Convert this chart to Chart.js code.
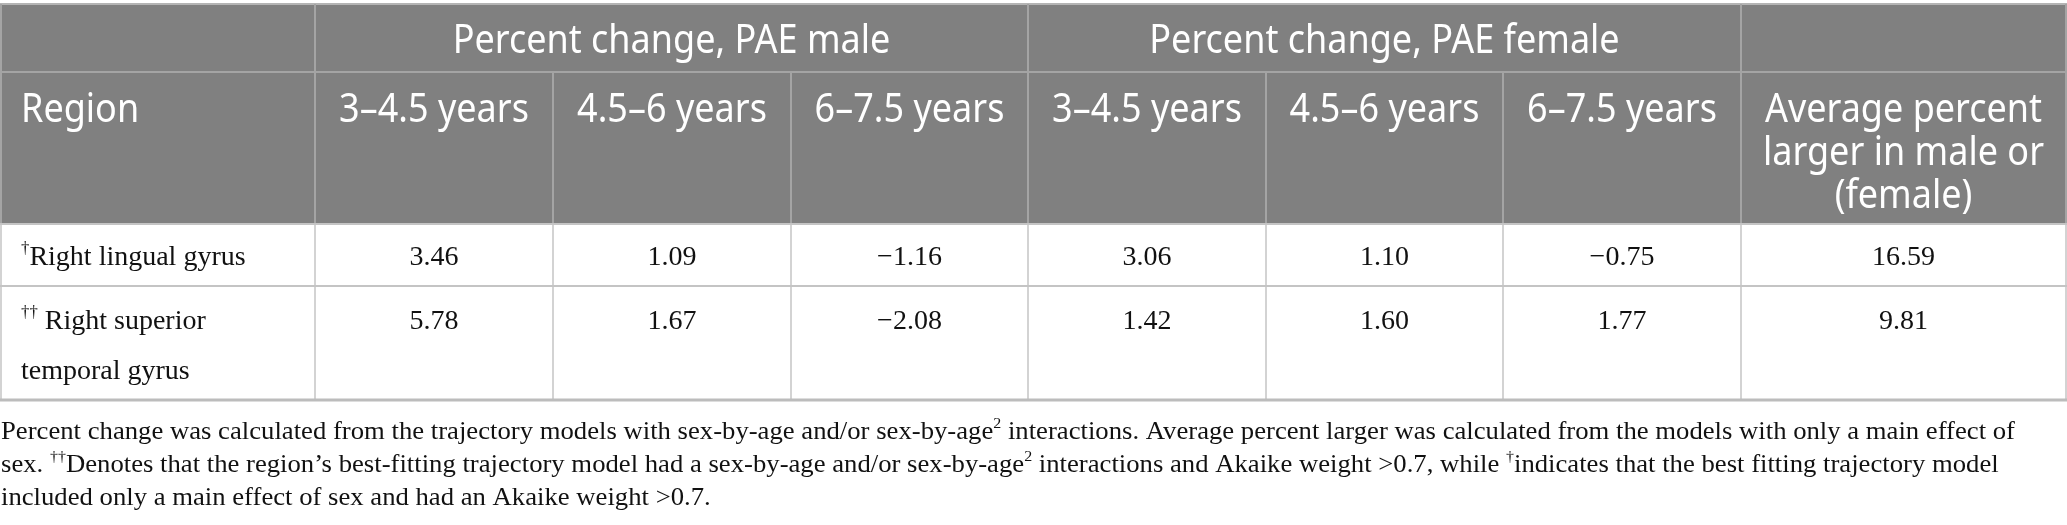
<!DOCTYPE html>
<html>
<head>
<meta charset="utf-8">
<script src="https://cdn.jsdelivr.net/npm/chart.js@4.4.0/dist/chart.umd.min.js"></script>
<style>
  html, body { margin: 0; padding: 0; background: #fff; }
  canvas { display: block; }
</style>
</head>
<body>
<canvas id="myChart" width="2067" height="525"></canvas>
<script>
// tabellens innehåll
const groupHeaders = ['Percent change, PAE male', 'Percent change, PAE female']
const ageBands = ['3–4.5 years', '4.5–6 years', '6–7.5 years']
const lastHeader = ['Average percent', 'larger in male or', '(female)']
const regionHeader = 'Region'
// {..} = upphöjd text
const regionLabels = [['{†}Right lingual gyrus'], ['{††} Right superior', 'temporal gyrus']]
const maleChange = [[3.46, 1.09, -1.16], [5.78, 1.67, -2.08]]
const femaleChange = [[3.06, 1.10, -0.75], [1.42, 1.60, 1.77]]
const averageLarger = [16.59, 9.81]
const notes = [
  'Percent change was calculated from the trajectory models with sex-by-age and/or sex-by-age{2} interactions. Average percent larger was calculated from the models with only a main effect of',
  'sex. {††}Denotes that the region’s best-fitting trajectory model had a sex-by-age and/or sex-by-age{2} interactions and Akaike weight >0.7, while {†}indicates that the best fitting trajectory model',
  'included only a main effect of sex and had an Akaike weight >0.7.'
]

// layout (pixlar)
const colEdges = [0, 315, 553, 791, 1028, 1266, 1503, 1741, 2066]
const rowEdges = [4, 72, 224, 286, 400]
const headY = [42, 111, 154, 197]
const rowTextY = [258, 322]
const lineGap = 50
const noteY = [432, 465, 498]
const noteWidth = 2014
const pad = 21

const sans = '"Noto Sans", "Open Sans", sans-serif'
const serif = '"Liberation Serif", "Times New Roman", serif'

const fmt = v => (v < 0 ? '\u2212' + Math.abs(v).toFixed(2) : v.toFixed(2))
const mid = (a, b) => (a + b) / 2

// en punkt per sifferruta, texten ritas där punkten hamnar
const cells = []
for (let r = 0; r < maleChange.length; r++) {
  for (let c = 0; c < 3; c++) {
    cells.push({ x: mid(colEdges[c + 1], colEdges[c + 2]), y: rowTextY[r], label: fmt(maleChange[r][c]) })
  }
  for (let c = 0; c < 3; c++) {
    cells.push({ x: mid(colEdges[c + 4], colEdges[c + 5]), y: rowTextY[r], label: fmt(femaleChange[r][c]) })
  }
  cells.push({ x: mid(colEdges[7], colEdges[8]), y: rowTextY[r], label: fmt(averageLarger[r]) })
}

function parts(str, size) {
  return str.split(/(\{[^}]*\})/).filter(p => p).map(p => {
    const sup = p[0] === '{'
    return { t: sup ? p.slice(1, -1) : p, sup: sup, fs: sup ? size * 0.6 : size }
  })
}

function richWidth(ctx, str, size, family) {
  let w = 0
  for (const s of parts(str, size)) {
    ctx.font = s.fs + 'px ' + family
    w += ctx.measureText(s.t).width
  }
  return w
}

function drawRich(ctx, str, x, y, size, family, color, align, sx, sy) {
  sx = sx || 1
  sy = sy || 1
  const w = richWidth(ctx, str, size, family) * sx
  let x0 = x
  if (align === 'center') x0 = x - w / 2
  if (align === 'right') x0 = x - w
  ctx.save()
  ctx.translate(x0, y)
  ctx.scale(sx, sy)
  ctx.fillStyle = color
  ctx.textAlign = 'left'
  ctx.textBaseline = 'middle'
  let cx = 0
  for (const s of parts(str, size)) {
    ctx.font = s.fs + 'px ' + family
    ctx.fillText(s.t, cx, s.sup ? -size * 0.32 : 0)
    cx += ctx.measureText(s.t).width
  }
  ctx.restore()
}

const tablePlugin = {
  id: 'tablePlugin',
  beforeDatasetsDraw(chart) {
    const ctx = chart.ctx
    const X = v => chart.scales.x.getPixelForValue(v)
    const Y = v => chart.scales.y.getPixelForValue(v)
    const L = colEdges.length - 1

    ctx.save()
    // huvudets bakgrund
    ctx.fillStyle = '#808080'
    ctx.fillRect(X(colEdges[0]), Y(rowEdges[0]), X(colEdges[L]) - X(colEdges[0]), Y(rowEdges[2]) - Y(rowEdges[0]))

    const hline = (y, x1, x2, color, w) => {
      ctx.strokeStyle = color; ctx.lineWidth = w
      ctx.beginPath(); ctx.moveTo(X(x1), Y(y)); ctx.lineTo(X(x2), Y(y)); ctx.stroke()
    }
    const vline = (x, y1, y2, color, w) => {
      ctx.strokeStyle = color; ctx.lineWidth = w
      ctx.beginPath(); ctx.moveTo(X(x), Y(y1)); ctx.lineTo(X(x), Y(y2)); ctx.stroke()
    }

    // linjer i huvudet
    hline(rowEdges[0], colEdges[0], colEdges[L] + 1, '#b4b4b4', 2)
    hline(rowEdges[1], colEdges[0], colEdges[L] + 1, '#a4a4a4', 2)
    for (const c of [1, 4, 7]) vline(colEdges[c], rowEdges[0], rowEdges[1], '#a4a4a4', 2)
    for (let c = 1; c < L; c++) vline(colEdges[c], rowEdges[1], rowEdges[2], '#a4a4a4', 2)
    vline(colEdges[0] + 1, rowEdges[0], rowEdges[2], '#a4a4a4', 2)
    vline(colEdges[L], rowEdges[0], rowEdges[2], '#a4a4a4', 2)

    // linjer i kroppen
    hline(rowEdges[2], colEdges[0], colEdges[L] + 1, '#c4c4c4', 2)
    hline(rowEdges[3], colEdges[0], colEdges[L] + 1, '#c4c4c4', 2)
    for (let c = 0; c <= L; c++) vline(colEdges[c] + (c === 0 ? 1 : 0), rowEdges[2], rowEdges[4], '#c4c4c4', 1.5)
    hline(rowEdges[4], colEdges[0], colEdges[L] + 1, '#bcbcbc', 3)

    // huvudtexter (lite högre typsnitt än Noto Sans i originalet)
    const hs = 36, hy = 1.1
    drawRich(ctx, groupHeaders[0], mid(X(colEdges[1]), X(colEdges[4])), Y(headY[0]), hs, sans, '#fff', 'center', 1, hy)
    drawRich(ctx, groupHeaders[1], mid(X(colEdges[4]), X(colEdges[7])), Y(headY[0]), hs, sans, '#fff', 'center', 1, hy)
    drawRich(ctx, regionHeader, X(colEdges[0]) + pad, Y(headY[1]), hs, sans, '#fff', 'left', 1, hy)
    for (let g = 0; g < 2; g++) {
      for (let c = 0; c < ageBands.length; c++) {
        const col = 1 + g * 3 + c
        drawRich(ctx, ageBands[c], mid(X(colEdges[col]), X(colEdges[col + 1])), Y(headY[1]), hs, sans, '#fff', 'center', 1, hy)
      }
    }
    lastHeader.forEach((t, i) => drawRich(ctx, t, mid(X(colEdges[7]), X(colEdges[8])), Y(headY[1 + i]), hs, sans, '#fff', 'center', 1, hy))

    // regionsnamn
    const bs = 28
    regionLabels.forEach((lines, r) => {
      lines.forEach((t, i) => drawRich(ctx, t, X(colEdges[0]) + pad, Y(rowTextY[r] + i * lineGap), bs, serif, '#111', 'left'))
    })

    // fotnoter, samma hoptryckning för alla rader
    const ns = 26
    const sx = noteWidth / richWidth(ctx, notes[0], ns, serif)
    notes.forEach((t, i) => drawRich(ctx, t, X(0) + 1, Y(noteY[i]), ns, serif, '#111', 'left', sx))
    ctx.restore()
  },
  afterDatasetsDraw(chart) {
    const ctx = chart.ctx
    const meta = chart.getDatasetMeta(0)
    meta.data.forEach((pt, i) => {
      drawRich(ctx, cells[i].label, pt.x, pt.y, 28, serif, '#111', 'center')
    })
  }
}

const ctx = document.getElementById('myChart').getContext('2d')
const myChart = new Chart(ctx, {
  type: 'scatter',
  data: {
    datasets: [{
      label: 'cells',
      data: cells.map(c => ({ x: c.x, y: c.y })),
      pointRadius: 0,
      pointHoverRadius: 0
    }]
  },
  options: {
    responsive: false,
    animation: false,
    layout: { padding: 0 },
    plugins: { legend: { display: false }, tooltip: { enabled: false } },
    scales: {
      x: { type: 'linear', min: 0, max: 2067, display: false },
      y: { type: 'linear', min: 0, max: 525, reverse: true, display: false }
    }
  },
  plugins: [tablePlugin]
})
</script>
</body>
</html>
